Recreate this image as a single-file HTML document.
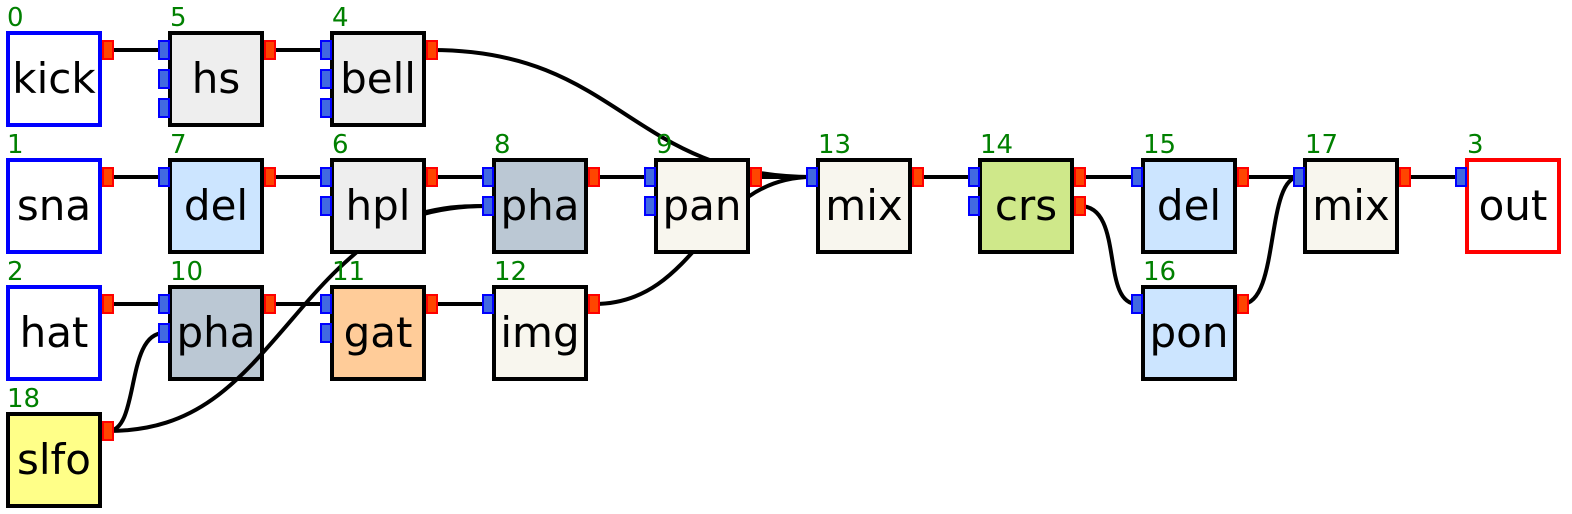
<!DOCTYPE html>
<html><head><meta charset="utf-8"><style>
html,body{margin:0;padding:0;background:#fff;}
svg{display:block;}
.n{font-family:"DejaVu Sans","Liberation Sans",sans-serif;font-size:42px;text-anchor:middle;fill:#000;}
.l{font-family:"DejaVu Sans","Liberation Sans",sans-serif;font-size:26px;fill:#008000;}
.e{fill:none;stroke:#000;stroke-width:4;}
.pi{fill:#4169e1;stroke:#0000ff;stroke-width:2;}
.po{fill:#ff4500;stroke:#ff0000;stroke-width:2;}
</style></head><body>
<svg width="1572" height="514" viewBox="0 0 1572 514" xmlns="http://www.w3.org/2000/svg">
<g>
<path class="e" d="M108 50 H164"/>
<path class="e" d="M270 50 H326"/>
<path class="e" d="M432 50 C620 50 630 177 812 177"/>
<path class="e" d="M108 177 H164"/>
<path class="e" d="M270 177 H326"/>
<path class="e" d="M432 177 H488"/>
<path class="e" d="M594 177 H650"/>
<path class="e" d="M756 177 H812"/>
<path class="e" d="M594 304 C700 304 706 177 812 177"/>
<path class="e" d="M108 304 H164"/>
<path class="e" d="M270 304 H326"/>
<path class="e" d="M432 304 H488"/>
<path class="e" d="M108 431 C140 431 125 333 164 333"/>
<path class="e" d="M918 177 H974"/>
<path class="e" d="M1080 177 H1137"/>
<path class="e" d="M1080 206 C1125 206 1100 304 1137 304"/>
<path class="e" d="M1242 177 H1299"/>
<path class="e" d="M1242 304 C1280 304 1265 177 1299 177"/>
<path class="e" d="M1404 177 H1461"/>
</g>
<g stroke-width="4">
<rect x="8" y="33" width="92" height="92" fill="#fff" stroke="#0000ff"/>
<rect x="170" y="33" width="92" height="92" fill="#eeeeee" stroke="#000"/>
<rect x="332" y="33" width="92" height="92" fill="#eeeeee" stroke="#000"/>
<rect x="8" y="160" width="92" height="92" fill="#fff" stroke="#0000ff"/>
<rect x="170" y="160" width="92" height="92" fill="#cce5ff" stroke="#000"/>
<rect x="656" y="160" width="92" height="92" fill="#f8f6ee" stroke="#000"/>
<rect x="818" y="160" width="92" height="92" fill="#f8f6ee" stroke="#000"/>
<rect x="980" y="160" width="92" height="92" fill="#cfe88a" stroke="#000"/>
<rect x="1143" y="160" width="92" height="92" fill="#cce5ff" stroke="#000"/>
<rect x="1305" y="160" width="92" height="92" fill="#f8f6ee" stroke="#000"/>
<rect x="1467" y="160" width="92" height="92" fill="#fff" stroke="#ff0000"/>
<rect x="8" y="287" width="92" height="92" fill="#fff" stroke="#0000ff"/>
<rect x="170" y="287" width="92" height="92" fill="#bbc8d4" stroke="#000"/>
<rect x="332" y="287" width="92" height="92" fill="#ffcc99" stroke="#000"/>
<rect x="494" y="287" width="92" height="92" fill="#f8f6ee" stroke="#000"/>
<rect x="1143" y="287" width="92" height="92" fill="#cce5ff" stroke="#000"/>
<rect x="8" y="414" width="92" height="92" fill="#ffff88" stroke="#000"/>
</g>
<path class="e" d="M108 431 C200 431 240 380 300 310 C330 275 345 262 365 245 C390 222 430 206 488 206"/>
<g stroke-width="4">
<rect x="332" y="160" width="92" height="92" fill="#eeeeee" stroke="#000"/>
<rect x="494" y="160" width="92" height="92" fill="#bbc8d4" stroke="#000"/>
</g>
<path class="e" d="M426 212 C450 206 470 206 488 206"/>
<g>
<rect class="po" x="103" y="41" width="10" height="18"/>
<rect class="pi" x="159" y="41" width="10" height="18"/><rect class="pi" x="159" y="70" width="10" height="18"/><rect class="pi" x="159" y="99" width="10" height="18"/>
<rect class="po" x="265" y="41" width="10" height="18"/>
<rect class="pi" x="321" y="41" width="10" height="18"/><rect class="pi" x="321" y="70" width="10" height="18"/><rect class="pi" x="321" y="99" width="10" height="18"/>
<rect class="po" x="427" y="41" width="10" height="18"/>

<rect class="po" x="103" y="168" width="10" height="18"/>
<rect class="pi" x="159" y="168" width="10" height="18"/>
<rect class="po" x="265" y="168" width="10" height="18"/>
<rect class="pi" x="321" y="168" width="10" height="18"/><rect class="pi" x="321" y="197" width="10" height="18"/>
<rect class="po" x="427" y="168" width="10" height="18"/>
<rect class="pi" x="483" y="168" width="10" height="18"/><rect class="pi" x="483" y="197" width="10" height="18"/>
<rect class="po" x="589" y="168" width="10" height="18"/>
<rect class="pi" x="645" y="168" width="10" height="18"/><rect class="pi" x="645" y="197" width="10" height="18"/>
<rect class="po" x="751" y="168" width="10" height="18"/>
<rect class="pi" x="807" y="168" width="10" height="18"/>
<rect class="po" x="913" y="168" width="10" height="18"/>
<rect class="pi" x="969" y="168" width="10" height="18"/><rect class="pi" x="969" y="197" width="10" height="18"/>
<rect class="po" x="1075" y="168" width="10" height="18"/><rect class="po" x="1075" y="197" width="10" height="18"/>
<rect class="pi" x="1132" y="168" width="10" height="18"/>
<rect class="po" x="1238" y="168" width="10" height="18"/>
<rect class="pi" x="1294" y="168" width="10" height="18"/>
<rect class="po" x="1400" y="168" width="10" height="18"/>
<rect class="pi" x="1456" y="168" width="10" height="18"/>

<rect class="po" x="103" y="295" width="10" height="18"/>
<rect class="pi" x="159" y="295" width="10" height="18"/><rect class="pi" x="159" y="324" width="10" height="18"/>
<rect class="po" x="265" y="295" width="10" height="18"/>
<rect class="pi" x="321" y="295" width="10" height="18"/><rect class="pi" x="321" y="324" width="10" height="18"/>
<rect class="po" x="427" y="295" width="10" height="18"/>
<rect class="pi" x="483" y="295" width="10" height="18"/>
<rect class="po" x="589" y="295" width="10" height="18"/>
<rect class="pi" x="1132" y="295" width="10" height="18"/>
<rect class="po" x="1238" y="295" width="10" height="18"/>

<rect class="po" x="103" y="422" width="10" height="18"/>
</g>
<text class="n" x="54" y="93">kick</text>
<text class="n" x="216" y="93">hs</text>
<text class="n" x="378" y="93">bell</text>
<text class="n" x="54" y="220">sna</text>
<text class="n" x="216" y="220">del</text>
<text class="n" x="378" y="220">hpl</text>
<text class="n" x="540" y="220">pha</text>
<text class="n" x="702" y="220">pan</text>
<text class="n" x="864" y="220">mix</text>
<text class="n" x="1026" y="220">crs</text>
<text class="n" x="1189" y="220">del</text>
<text class="n" x="1351" y="220">mix</text>
<text class="n" x="1513" y="220">out</text>
<text class="n" x="54" y="347">hat</text>
<text class="n" x="216" y="347">pha</text>
<text class="n" x="378" y="347">gat</text>
<text class="n" x="540" y="347">img</text>
<text class="n" x="1189" y="347">pon</text>
<text class="n" x="54" y="474">slfo</text>
<text class="l" x="7" y="26">0</text>
<text class="l" x="170" y="26">5</text>
<text class="l" x="332" y="26">4</text>
<text class="l" x="7" y="153">1</text>
<text class="l" x="170" y="153">7</text>
<text class="l" x="332" y="153">6</text>
<text class="l" x="494" y="153">8</text>
<text class="l" x="656" y="153">9</text>
<text class="l" x="818" y="153">13</text>
<text class="l" x="980" y="153">14</text>
<text class="l" x="1143" y="153">15</text>
<text class="l" x="1305" y="153">17</text>
<text class="l" x="1467" y="153">3</text>
<text class="l" x="7" y="280">2</text>
<text class="l" x="170" y="280">10</text>
<text class="l" x="332" y="280">11</text>
<text class="l" x="494" y="280">12</text>
<text class="l" x="1143" y="280">16</text>
<text class="l" x="7" y="407">18</text>
</svg>
</body></html>
